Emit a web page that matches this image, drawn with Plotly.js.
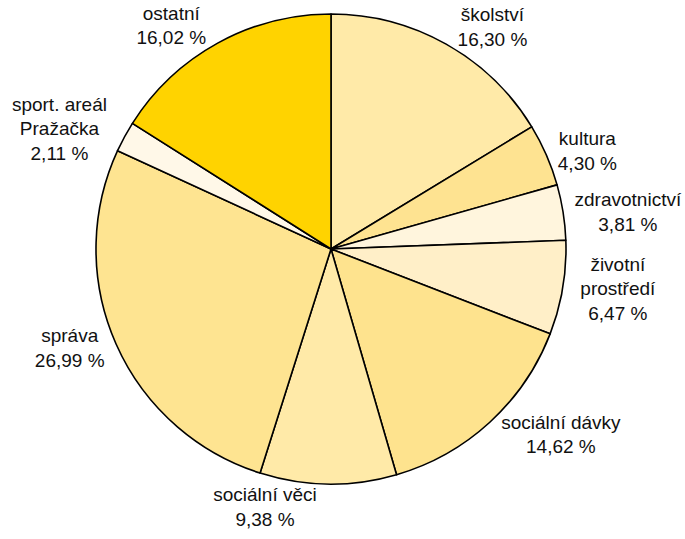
<!DOCTYPE html>
<html>
<head>
<meta charset="utf-8">
<script src="https://cdn.plot.ly/plotly-3.0.1.min.js"></script>
<style>html,body{margin:0;padding:0;background:#fff;}#chart{width:685px;height:539px;}</style>
</head>
<body>
<div id="chart"></div>
<script>
const categories = ["školství", "kultura", "zdravotnictví", "životní<br>prostředí", "sociální dávky", "sociální věci", "správa", "sport. areál<br>Pražačka", "ostatní"];
const values = [16.30, 4.30, 3.81, 6.47, 14.62, 9.38, 26.99, 2.11, 16.02];
const valueLabels = ["16,30 %", "4,30 %", "3,81 %", "6,47 %", "14,62 %", "9,38 %", "26,99 %", "2,11 %", "16,02 %"];
const colors = ["#FFEAA8", "#FEE391", "#FFF5DD", "#FFEFC8", "#FEE38E", "#FFEAA8", "#FEE491", "#FFF8E8", "#FFD300"];

const W = 685, H = 539, cx = 331, cy = 249, r = 235;

Plotly.newPlot("chart", [{
  type: "pie",
  labels: categories,
  values: values,
  customdata: valueLabels,
  sort: false,
  direction: "clockwise",
  rotation: 0,
  marker: {colors: colors, line: {color: "#000", width: 1.6}},
  textposition: "outside",
  texttemplate: "%{label}<br>%{customdata}",
  textfont: {family: "Liberation Sans, Arial, sans-serif", size: 19, color: "#111"},
  hoverinfo: "none",
  automargin: false,
  domain: {x: [(cx - r) / W, (cx + r) / W], y: [(H - cy - r) / H, (H - cy + r) / H]}
}], {
  width: W, height: H,
  margin: {l: 0, r: 0, t: 0, b: 0},
  showlegend: false,
  paper_bgcolor: "#fff",
  font: {family: "Liberation Sans, Arial, sans-serif"}
}, {displayModeBar: false, staticPlot: true});
</script>
</body>
</html>
